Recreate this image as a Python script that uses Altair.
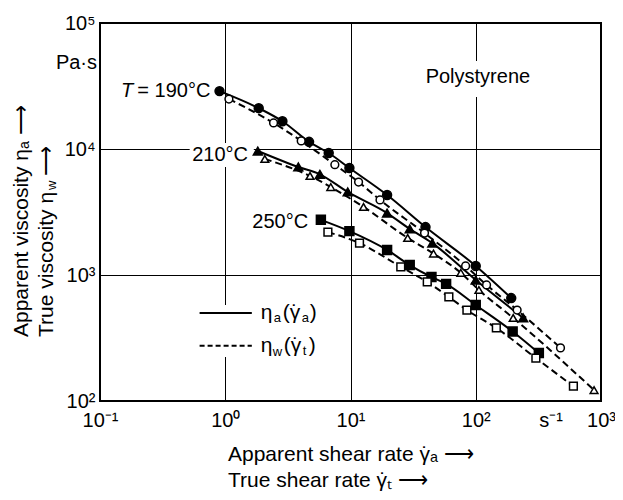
import altair as alt
import pandas as pd

# ---- data (shear rate in 1/s, viscosity in Pa·s) ----
t190_a_x = [0.90, 1.85, 2.86, 4.67, 6.7, 9.8, 19.6, 39.7, 100, 192]
t190_a_y = [28800, 21100, 16600, 11400, 9290, 7060, 4310, 2400, 1180, 656]
t190_w_x = [1.07, 2.43, 4.04, 7.5, 11.6, 17.2, 39, 83, 122, 214, 475]
t190_w_y = [24900, 16100, 11600, 7500, 5470, 3940, 2150, 1180, 834, 527, 264]

t210_a_x = [1.82, 3.83, 5.7, 9.5, 19.6, 29.7, 45, 100, 239]
t210_a_y = [9640, 7200, 6300, 4560, 3100, 2320, 1790, 912, 456]
t210_w_x = [2.07, 4.75, 6.96, 12.7, 28.6, 46, 76, 106, 199, 880]
t210_w_y = [8330, 6110, 4990, 3470, 1970, 1480, 1040, 760, 456, 122]

t250_a_x = [5.8, 9.8, 19.6, 29.7, 44.3, 58, 100, 197, 319]
t250_a_y = [2740, 2230, 1580, 1200, 964, 850, 578, 356, 240]
t250_w_x = [6.6, 11.8, 25.2, 41, 61, 85, 146, 302, 602]
t250_w_y = [2190, 1790, 1160, 880, 669, 527, 380, 219, 131]

x_ticks = [0.1, 1, 10, 100, 1000]
x_tick_labels = ["10⁻¹", "10⁰", "10¹", "10²", "10³"]
y_ticks = [100, 1000, 10000, 100000]
y_tick_labels = ["10²", "10³", "10⁴", "10⁵"]

legend_x = [0.624, 1.63]
legend_y_a = [500, 500]
legend_y_w = [274, 274]

# white gaps in the grid behind the labels (x1, x2, y1, y2 in data units)
gap_x1 = [0.52, 39, 0.85]
gap_x2 = [1.69, 286, 1.15]
gap_y1 = [7200, 25900, 223]
gap_y2 = [11170, 49900, 578]

FONT = "Liberation Sans, Arial, sans-serif"

rows = []
for temp, kind, xs, ys in [
    ("190", "a", t190_a_x, t190_a_y), ("190", "w", t190_w_x, t190_w_y),
    ("210", "a", t210_a_x, t210_a_y), ("210", "w", t210_w_x, t210_w_y),
    ("250", "a", t250_a_x, t250_a_y), ("250", "w", t250_w_x, t250_w_y),
]:
    for x, y in zip(xs, ys):
        rows.append({"x": x, "y": y, "temp": temp, "kind": kind, "series": temp + kind})
df = pd.DataFrame(rows)


def label_expr(vals, labels):
    expr = "''"
    for v, l in zip(vals, labels):
        expr = f"abs(datum.value - {v}) < {v}*0.01 ? '{l}' : ({expr})"
    return expr


xscale = alt.Scale(type="log", domain=[0.1, 1000], nice=False)
yscale = alt.Scale(type="log", domain=[100, 100000], nice=False)

xaxis = alt.Axis(values=x_ticks, labelExpr=label_expr(x_ticks, x_tick_labels), grid=True,
                 gridColor="black", gridWidth=1, gridOpacity=1, ticks=False, domain=False,
                 labelFont=FONT, labelFontSize=20, labelColor="black", labelPadding=9,
                 labelFlush=False, labelOverlap=False, labelBound=False, title=None)
yaxis = alt.Axis(values=y_ticks, labelExpr=label_expr(y_ticks, y_tick_labels), grid=True,
                 gridColor="black", gridWidth=1, gridOpacity=1, ticks=False, domain=False,
                 labelFont=FONT, labelFontSize=20, labelColor="black", labelPadding=5,
                 labelFlush=False, labelOverlap=False, labelBound=False, title=None)


def X(field=None, datum=None):
    if datum is not None:
        return alt.X(datum=datum, scale=xscale, axis=xaxis)
    return alt.X(field, type="quantitative", scale=xscale, axis=xaxis)


def Y(field=None, datum=None):
    if datum is not None:
        return alt.Y(datum=datum, scale=yscale, axis=yaxis)
    return alt.Y(field, type="quantitative", scale=yscale, axis=yaxis)


gaps_df = pd.DataFrame({"x1": gap_x1, "x2": gap_x2, "y1": gap_y1, "y2": gap_y2})
gaps = alt.Chart(gaps_df).mark_rect(fill="white", stroke=None).encode(
    x=X("x1"), x2="x2", y=Y("y1"), y2="y2")

base = alt.Chart(df)

solid = base.transform_filter("datum.kind == 'a'").mark_line(
    color="black", strokeWidth=2, interpolate="monotone"
).encode(x=X("x"), y=Y("y"), detail="series:N", order="x:Q")

dashed = base.transform_filter("datum.kind == 'w'").mark_line(
    color="black", strokeWidth=2, strokeDash=[7, 4], interpolate="monotone"
).encode(x=X("x"), y=Y("y"), detail="series:N", order="x:Q")

points = base.mark_point(filled=True, stroke="black", strokeWidth=1.5, opacity=1).encode(
    x=X("x"), y=Y("y"),
    shape=alt.Shape("temp:N", scale=alt.Scale(domain=["190", "210", "250"],
                                               range=["circle", "triangle-up", "square"]), legend=None),
    fill=alt.Fill("kind:N", scale=alt.Scale(domain=["a", "w"], range=["black", "white"]), legend=None),
    size=alt.Size("kind:N", scale=alt.Scale(domain=["a", "w"], range=[80, 60]), legend=None),
)

leg_df = pd.DataFrame({"x": legend_x * 2, "y": legend_y_a + legend_y_w,
                       "kind": ["a", "a", "w", "w"]})
leg_solid = alt.Chart(leg_df).transform_filter("datum.kind == 'a'").mark_line(
    color="black", strokeWidth=2).encode(x=X("x"), y=Y("y"))
leg_dash = alt.Chart(leg_df).transform_filter("datum.kind == 'w'").mark_line(
    color="black", strokeWidth=2, strokeDash=[5, 3]).encode(x=X("x"), y=Y("y"))

dummy = pd.DataFrame({"d": [0]})


def txt(text, x, y, size=20, align="left", baseline="middle", angle=0, style="normal",
        pixel=False, dx=0, dy=0):
    mk = alt.Chart(dummy).mark_text(text=text, font=FONT, fontSize=size, align=align,
                                    baseline=baseline, angle=angle, fontStyle=style,
                                    color="black", dx=dx, dy=dy)
    if pixel:
        return mk.encode(x=alt.value(x), y=alt.value(y))
    return mk.encode(x=X(datum=x), y=Y(datum=y))


annots = [
    txt("= 190°C", 0.76, 29000, size=20, align="right"),
    txt("T", 0.76, 29000, size=20, align="right", style="italic", dx=-77),
    txt("210°C", 1.52, 8960, size=20, align="right"),
    txt("250°C", 4.59, 2640, size=20, align="right"),
    txt("Polystyrene", 104, 37300, size=20, align="center"),
    # legend: eta_a(gamma-dot_a)
    txt("η", 1.92, 500, size=21, align="left"),
    txt("a", 1.92, 500, size=13, align="left", dx=13, dy=5),
    txt("(γ", 1.92, 500, size=21, align="left", dx=22),
    txt("˙", 1.92, 500, size=21, align="center", dx=34),
    txt("a", 1.92, 500, size=13, align="left", dx=41, dy=5),
    txt(")", 1.92, 500, size=21, align="left", dx=49),
    # legend: eta_w(gamma-dot_t)
    txt("η", 1.92, 274, size=21, align="left"),
    txt("w", 1.92, 274, size=13, align="left", dx=12, dy=6),
    txt("(γ", 1.92, 274, size=21, align="left", dx=23),
    txt("˙", 1.92, 274, size=21, align="center", dx=35),
    txt("t", 1.92, 274, size=13, align="left", dx=42, dy=5),
    txt(")", 1.92, 274, size=21, align="left", dx=48),
    txt("Pa·s", -3, 40, size=20, align="right", pixel=True),
    txt("s⁻¹", 451, 398, size=20, align="center", pixel=True),
    txt("Apparent shear rate γₐ ⟶", 128, 432, size=21, align="left", pixel=True),
    txt("˙", 325, 432, size=21, align="center", pixel=True),
    txt("True shear rate γₜ ⟶", 128, 458, size=21, align="left", pixel=True),
    txt("˙", 283, 458, size=21, align="center", pixel=True),
    txt("Apparent viscosity ηₐ ⟶", -78, 314, size=21, align="left", angle=270, pixel=True),
    txt("True viscosity η", -53, 314, size=21, align="left", angle=270, pixel=True),
    txt("w", -48, 167, size=13, align="left", angle=270, pixel=True),
    txt("⟶", -53, 153, size=21, align="left", angle=270, pixel=True),
]

chart = alt.layer(gaps, solid, dashed, leg_solid, leg_dash, points, *annots).properties(
    width=501, height=378,
    padding={"left": 92, "top": 15, "right": 14, "bottom": 92},
    autosize=alt.AutoSizeParams(type="none"),
).configure_view(stroke="black", strokeWidth=2)

chart.save("out.html", embed_options={"renderer": "svg", "actions": False})
